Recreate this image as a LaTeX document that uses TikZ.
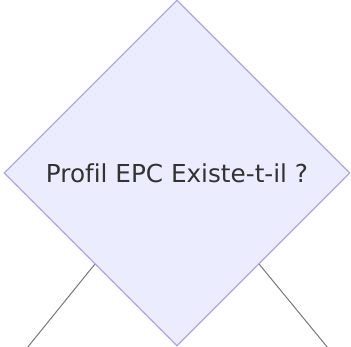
\documentclass[tikz,border=0pt]{standalone}
\usepackage{fontspec}
\setmainfont[Ligatures={NoCommon}]{DejaVu Sans}
\usetikzlibrary{shapes.geometric,calc}
\definecolor{dfill}{HTML}{ECECFF}
\definecolor{dline}{HTML}{B3A3EC}
\definecolor{txt}{HTML}{333333}
\definecolor{edge}{HTML}{777777}
\begin{document}
\begin{tikzpicture}[x=1pt,y=1pt,
  decision/.style={diamond,aspect=1,draw=dline,fill=dfill,line width=1.2pt,inner sep=0pt,
    minimum width=346pt,minimum height=346pt,text=txt,font=\fontsize{24.7}{28}\selectfont},
  link/.style={draw=edge,line width=1pt}]
\useasboundingbox (0,0) rectangle (351,347);
\node[decision] (d) at (177,174) {Profil EPC Existe-t-il ?};
\coordinate (l1) at ($(d.west)!0.526!(d.south)$);
\coordinate (r1) at ($(d.east)!0.526!(d.south)$);
\coordinate (l2) at (27,-1);
\coordinate (r2) at (328,-1);
\draw[link] (l1) -- (l2);
\draw[link] (r1) -- (r2);
\end{tikzpicture}
\end{document}
